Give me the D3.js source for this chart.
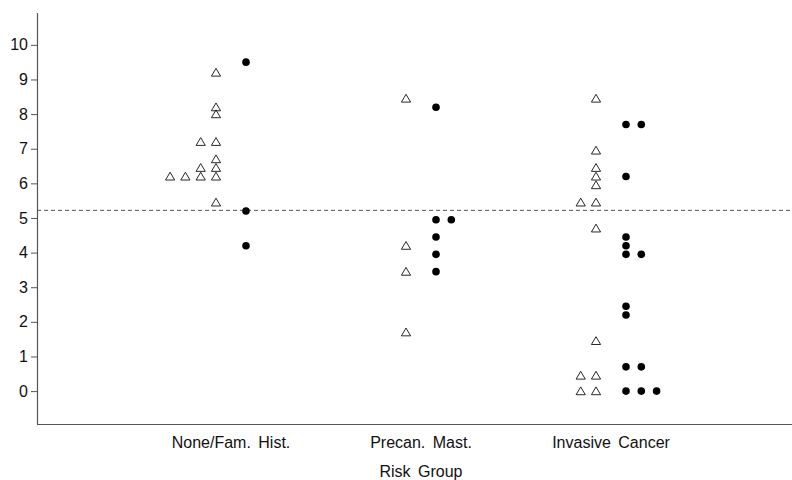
<!DOCTYPE html>
<html>
<head>
<meta charset="utf-8">
<script src="https://cdn.jsdelivr.net/npm/d3@7"></script>
<style>
  body { margin: 0; background: #fff; }
  text { font-family: "Liberation Sans", Arial, sans-serif; fill: #111; }
</style>
</head>
<body>
<svg id="chart" width="792" height="480"></svg>
<script>
// Risk groups along the x axis
var groups = ["None/Fam. Hist.", "Precan. Mast.", "Invasive Cancer"];

// Open triangles (left column of each group), one array per group
var triangleValues = [
    [9.2, 8.2, 8.0, 7.2, 7.2, 6.7, 6.45, 6.45, 6.2, 6.2, 6.2, 6.2, 5.45],
    [8.45, 4.2, 3.45, 1.7],
    [8.45, 6.95, 6.45, 6.2, 5.95, 5.45, 5.45, 4.7, 1.45, 0.45, 0.45, 0, 0]
];

// Filled circles (right column of each group)
var circleValues = [
    [9.5, 5.2, 4.2],
    [8.2, 4.95, 4.95, 4.45, 3.95, 3.45],
    [7.7, 7.7, 6.2, 4.45, 4.2, 3.95, 3.95, 2.45, 2.2, 0.7, 0.7, 0, 0, 0]
];

var yTicks = [0, 1, 2, 3, 4, 5, 6, 7, 8, 9, 10];
var referenceLine = 5.22;
var xTitle = "Risk Group";

var svg = d3.select("#chart");
var W = 792, plotLeft = 37, plotTop = 13, plotBottom = 424;

var x = d3.scalePoint().domain(groups).range([231, 611]);
var y = d3.scaleLinear().domain([-0.95, 10.92]).range([plotBottom, plotTop]);

var colOffset = 15;   // distance from group centre to first column
var step = 15.3;      // spacing between stacked ties

// Turn values into positioned points; ties are pushed sideways (dir -1 left, +1 right)
function stack(values, group, dir) {
    var seen = {};
    return values.map(function(v) {
        var key = v.toFixed(2);
        var k = seen[key] || 0;
        seen[key] = k + 1;
        return { cx: x(group) + dir * (colOffset + k * step), cy: y(v) };
    });
}

// Y axis
var yAxis = svg.append("g")
    .attr("transform", "translate(" + plotLeft + ",0)")
    .call(d3.axisLeft(y).tickValues(yTicks).tickSize(6).tickSizeOuter(0).tickPadding(3));
yAxis.select(".domain").attr("stroke", "#555").attr("stroke-width", 1.2)
    .attr("d", "M0.5," + plotTop + "V" + plotBottom);
yAxis.selectAll(".tick line").attr("stroke", "#555");
yAxis.selectAll(".tick text").style("font-size", "16px").attr("fill", "#111");

// Bottom axis line (no ticks)
svg.append("line")
    .attr("x1", plotLeft).attr("x2", W)
    .attr("y1", plotBottom + 0.5).attr("y2", plotBottom + 0.5)
    .attr("stroke", "#555").attr("stroke-width", 1.2);

// Dashed reference line
svg.append("line")
    .attr("x1", plotLeft).attr("x2", W)
    .attr("y1", y(referenceLine)).attr("y2", y(referenceLine))
    .attr("stroke", "#555").attr("stroke-width", 1)
    .attr("stroke-dasharray", "4,3");

// Category labels and axis title
svg.selectAll(".cat").data(groups).enter().append("text")
    .attr("class", "cat")
    .attr("x", function(d) { return x(d); })
    .attr("y", 448)
    .attr("text-anchor", "middle")
    .style("font-size", "16px")
    .style("word-spacing", "3px")
    .text(function(d) { return d; });

svg.append("text")
    .attr("x", x(groups[1]))
    .attr("y", 477)
    .attr("text-anchor", "middle")
    .style("font-size", "16px")
    .style("word-spacing", "3px")
    .text(xTitle);

// Triangles and circles per group
var triPath = "M0,-4.2L4.6,3.6L-4.6,3.6Z";
groups.forEach(function(g, i) {
    svg.append("g").selectAll("path")
        .data(stack(triangleValues[i], g, -1))
        .enter().append("path")
        .attr("d", triPath)
        .attr("transform", function(d) { return "translate(" + d.cx + "," + d.cy + ")"; })
        .attr("fill", "none")
        .attr("stroke", "#111")
        .attr("stroke-width", 0.9);

    svg.append("g").selectAll("circle")
        .data(stack(circleValues[i], g, 1))
        .enter().append("circle")
        .attr("cx", function(d) { return d.cx; })
        .attr("cy", function(d) { return d.cy; })
        .attr("r", 3.8)
        .attr("fill", "#000");
});
</script>
</body>
</html>
